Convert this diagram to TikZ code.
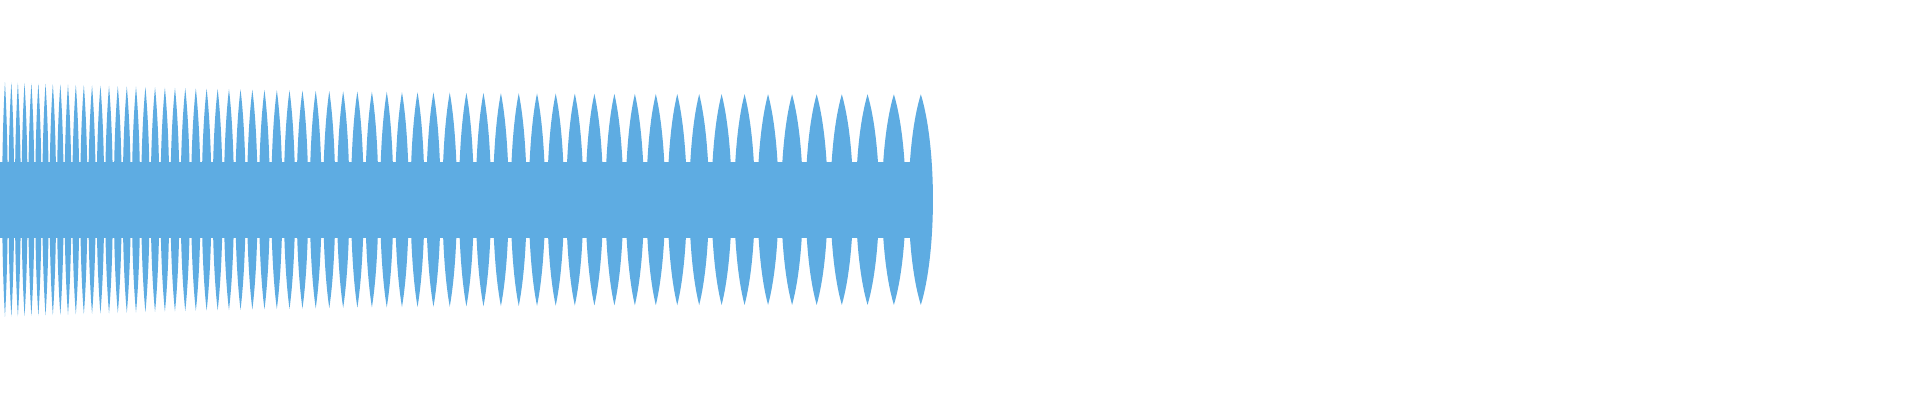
\documentclass[tikz,border=0pt]{standalone}
\definecolor{wave}{RGB}{94,172,226}
\begin{document}
\begin{tikzpicture}[x=1.2245pt,y=-1.2245pt]
\useasboundingbox (0,0) rectangle (1568,326.7);
\fill[wave] (0,132) rectangle (752,194);
\def\cx{752}
\loop
\pgfmathsetmacro{\s}{5+17*\cx/752}
\pgfmathsetmacro{\w}{0.6*\s}
\pgfmathsetmacro{\A}{86+10*(1-\cx/752)^3}
\pgfmathsetmacro{\t}{163-\A}
\pgfmathsetmacro{\b}{163+\A}
\fill[wave] (\cx,\t) .. controls (\cx+\w,120) and (\cx+\w,206) .. (\cx,\b) .. controls (\cx-\w,206) and (\cx-\w,120) .. cycle;
\pgfmathsetmacro{\cx}{\cx-\s}
\pgfmathparse{\cx>2?1:0}
\ifnum\pgfmathresult=1 \repeat
\end{tikzpicture}
\end{document}
